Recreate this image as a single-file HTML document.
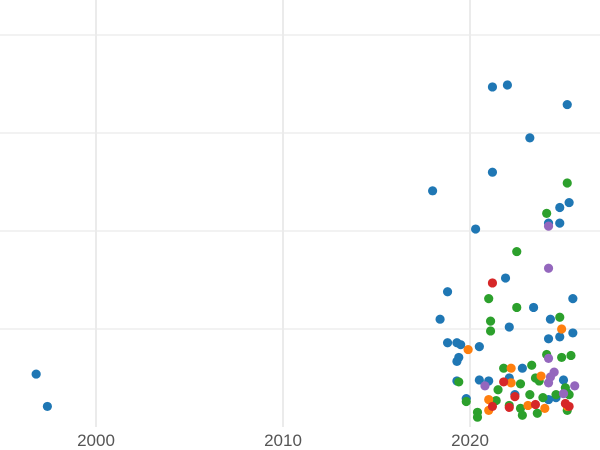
<!DOCTYPE html>
<html><head><meta charset="utf-8"><style>
html,body{margin:0;padding:0;background:#fff;width:600px;height:450px;overflow:hidden}
svg{display:block;font-family:"Liberation Sans",sans-serif}
</style></head><body>
<svg id="chart" width="600" height="450"></svg>
<script>
const xTicks = [2000, 2010, 2020];
const yGrid = [1, 2, 3, 4];
const blueX = [1996.8,1997.4,2018.0,2021.2,2022.0,2025.2,2023.2,2021.2,2020.3,2018.8,2018.4,2021.9,2023.4,2025.5,2024.3,2022.1,2024.8,2025.3,2024.2,2024.8,2024.2,2024.8,2025.5,2018.8,2019.3,2019.5,2020.5,2019.4,2019.3,2022.8,2019.3,2020.5,2021.0,2019.8,2022.1,2025.0,2024.2,2024.6,2022.4,2025.2];
const blueY = [0.54,0.21,2.41,3.47,3.49,3.29,2.95,2.60,2.02,1.38,1.10,1.52,1.22,1.31,1.10,1.02,2.24,2.29,2.08,2.08,0.90,0.92,0.96,0.86,0.86,0.84,0.82,0.71,0.67,0.60,0.47,0.48,0.47,0.29,0.50,0.48,0.28,0.30,0.33,0.35];
const greenX = [2025.2,2024.1,2022.5,2021.0,2021.1,2021.1,2022.5,2024.8,2023.3,2024.1,2024.9,2025.4,2021.8,2022.7,2023.5,2019.4,2019.8,2020.4,2020.4,2021.5,2021.4,2022.1,2023.2,2022.7,2022.8,2023.6,2023.9,2024.6,2025.1,2025.3,2025.2,2023.7];
const greenY = [2.49,2.18,1.79,1.31,1.08,0.98,1.22,1.12,0.63,0.74,0.71,0.73,0.60,0.44,0.50,0.46,0.26,0.15,0.10,0.38,0.27,0.22,0.33,0.19,0.12,0.14,0.30,0.33,0.40,0.33,0.17,0.47];
const orangeX = [2019.9,2024.9,2022.2,2023.8,2021.0,2021.0,2022.2,2023.1,2024.0,2025.2];
const orangeY = [0.79,1.00,0.60,0.52,0.28,0.17,0.45,0.22,0.19,0.21];
const redX = [2021.2,2021.8,2021.2,2022.4,2022.1,2023.5,2025.3,2025.1];
const redY = [1.47,0.46,0.21,0.31,0.20,0.23,0.21,0.24];
const purpleX = [2024.2,2024.2,2024.2,2024.5,2024.3,2024.2,2020.8,2025.0,2025.6];
const purpleY = [2.05,1.62,0.70,0.56,0.51,0.45,0.42,0.34,0.42];

const svg = document.getElementById('chart');
const NS = 'http://www.w3.org/2000/svg';
const xs = v => 96 + (v - 2000) * 18.7;
const ys = v => 427 - v * 98;
function mk(t, a){const e=document.createElementNS(NS,t);for(const k in a)e.setAttribute(k,a[k]);svg.appendChild(e);return e;}
yGrid.forEach(v=>{
  const l=mk('line',{x1:0,x2:600,y1:ys(v),y2:ys(v),stroke:'#ebebeb','stroke-width':1.2});
  
  
});
xTicks.forEach(v=>{
  const l=mk('line',{x1:xs(v),x2:xs(v),y1:0,y2:427,stroke:'#ebebeb','stroke-width':2});
  
  
  const t=mk('text',{x:xs(v),y:446,'text-anchor':'middle','font-size':17,fill:'#555'});
  t.textContent=v;
  
  
});
const series=[[blueX,blueY,'#1f77b4','blue'],[greenX,greenY,'#2ca02c','green'],[orangeX,orangeY,'#ff7f0e','orange'],[redX,redY,'#d62728','red'],[purpleX,purpleY,'#9467bd','purple']];
series.forEach(([X,Y,c,n])=>{
  X.forEach((x,i)=>{
    const p=mk('circle',{cx:xs(x),cy:ys(Y[i]),r:4.6,fill:c});
    
    
  });
});
</script>
</body></html>
